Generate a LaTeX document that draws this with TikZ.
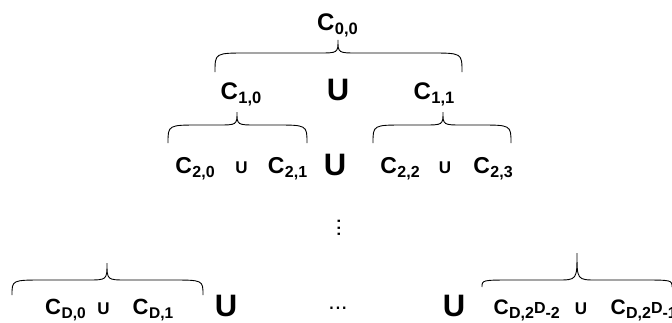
\documentclass[tikz,border=0pt]{standalone}
\usepackage{fontspec}
\setmainfont{Liberation Sans}
% C with a lowered index: #1 = size of C, #2 = size of index, #3 = index
\newcommand\csub[3]{{\fontsize{#1}{#1}\selectfont C\kern0.5pt\raisebox{-4.5pt}{\fontsize{#2}{#2}\selectfont #3}}}
% curly brace: left x, right x, tip x, end y, middle y, tip y
\newcommand\drawbrace[6]{%
  \draw[brc] (#1,#4) .. controls (#1,#5) .. (#1+32,#5) -- (#3-20,#5)
    .. controls (#3,#5) .. (#3,#6) .. controls (#3,#5) .. (#3+20,#5)
    -- (#2-32,#5) .. controls (#2,#5) .. (#2,#4);}
\begin{document}
\begin{tikzpicture}[x=1pt,y=-1pt,
  lbl/.style={inner sep=0pt,outer sep=0pt,font=\bfseries,anchor=base},
  bigU/.style={lbl,font=\bfseries\fontsize{31}{31}\selectfont},
  smallU/.style={lbl,font=\bfseries\fontsize{17}{17}\selectfont},
  brc/.style={line width=0.9pt,black}]
\useasboundingbox (0,0) rectangle (672,322);
\clip (0,0) rectangle (672,322);

% level 0
\node[lbl] (c00) at (337.5,30) {\csub{24}{16.5}{0,0}};
\drawbrace{215}{462}{338}{72}{53}{40}

% level 1
\node[lbl] (c10) at (241,99) {\csub{24}{16.5}{1,0}};
\node[bigU] (u1) at (338,100) {U};
\node[lbl] (c11) at (434,99) {\csub{24}{16.5}{1,1}};
\drawbrace{168}{307}{237}{143}{125}{112}
\drawbrace{373}{511}{443}{143}{125}{112}

% level 2
\node[lbl] (c20) at (195,173) {\csub{23}{16}{2,0}};
\node[smallU] (u20) at (241.5,173) {U};
\node[lbl] (c21) at (287.5,173) {\csub{23}{16}{2,1}};
\node[bigU] (u2) at (335,175) {U};
\node[lbl] (c22) at (400,173) {\csub{23}{16}{2,2}};
\node[smallU] (u22) at (445,173) {U};
\node[lbl] (c23) at (493,173) {\csub{23}{16}{2,3}};

% vertical ellipsis
\node[inner sep=0pt,rotate=90,font=\fontsize{23}{23}\selectfont] (vdots) at (339,228) {...};

% level D
\drawbrace{12}{203}{107}{295}{280}{263}
\node[lbl] (cd0) at (65.5,314) {\csub{22}{15.5}{D,0}};
\node[smallU] (ud0) at (103.5,314) {U};
\node[lbl] (cd1) at (153,314) {\csub{22}{15.5}{D,1}};
\node[bigU] (ud1) at (226,316) {U};
\node[lbl,font=\fontsize{23}{23}\selectfont] (hdots) at (338,309) {...};
\node[bigU] (ud2) at (454,316) {U};
\drawbrace{482}{672}{577}{287}{280}{253}
\node[lbl,anchor=base west] (cdm2) at (493.5,314)
  {\csub{21}{16}{D,2\raisebox{5pt}{D}-2}};
\node[smallU] (udm) at (581,314) {U};
\node[lbl,anchor=base west] (cdm1) at (610.5,314)
  {\csub{21}{16}{D,2\raisebox{5pt}{D}-1}};
\end{tikzpicture}
\end{document}
